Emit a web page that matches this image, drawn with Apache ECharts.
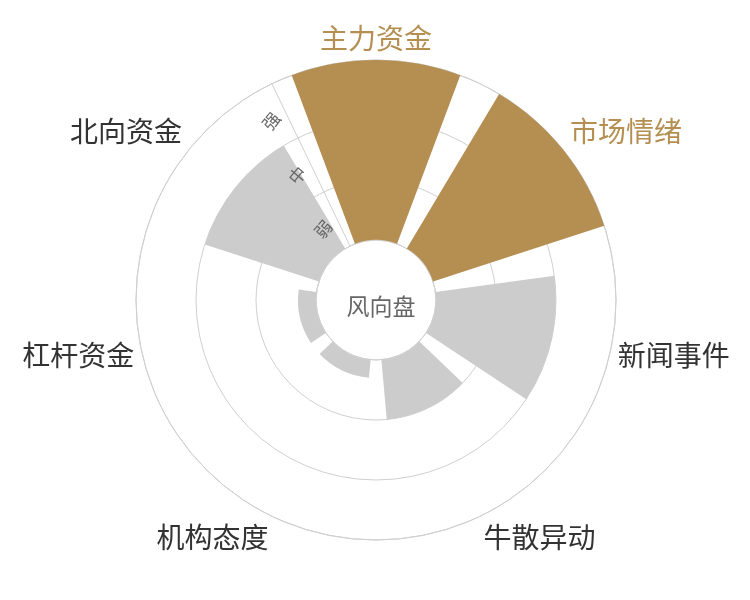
<!DOCTYPE html>
<html>
<head>
<meta charset="utf-8">
<script src="https://cdn.jsdelivr.net/npm/echarts@6/dist/echarts.min.js"></script>
<style>
html,body{margin:0;padding:0;background:#fff;}
#main{width:750px;height:600px;}
</style>
</head>
<body>
<div id="main"></div>
<script>
const categories = ['主力资金', '市场情绪', '新闻事件', '牛散异动', '机构态度', '杠杆资金', '北向资金'];
const values = [3, 3, 2, 1, 0.3, 0.3, 2];
const highlighted = [true, true, false, false, false, false, false];
const levels = ['弱', '中', '强'];
const centerLabel = '风向盘';

const BROWN = '#B58F52';
const GRAY = '#CCCCCC';
const LINE = '#D0D0D0';
const FONT = '"Noto Sans CJK SC", "Noto Sans", sans-serif';
const startAngle = 90 + 360 / categories.length / 2;

const chart = echarts.init(document.getElementById('main'), null, { renderer: 'canvas' });
chart.setOption({
  backgroundColor: '#fff',
  animation: false,
  textStyle: { fontFamily: FONT },
  title: {
    text: centerLabel,
    left: 376, top: 301,
    textAlign: 'center', textVerticalAlign: 'middle',
    textStyle: { fontSize: 23, fontWeight: 'normal', color: '#666', fontFamily: FONT }
  },
  polar: [
    { center: [376, 300], radius: [60, 240] },
    { center: [376, 300], radius: [60, 240] }
  ],
  angleAxis: [
    {
      polarIndex: 0,
      type: 'category',
      data: categories,
      startAngle: startAngle,
      clockwise: true,
      axisLine: { show: true, lineStyle: { color: LINE, width: 1 } },
      axisTick: { show: false },
      splitLine: { show: false },
      axisLabel: {
        margin: 8,
        fontSize: 28,
        fontFamily: FONT,
        formatter: function (v) {
          const i = categories.indexOf(v);
          return highlighted[i] ? '{h|' + v + '}' : '{n|' + v + '}';
        },
        rich: {
          h: { color: BROWN, fontSize: 28, fontFamily: FONT },
          n: { color: '#333', fontSize: 28, fontFamily: FONT }
        }
      }
    },
    {
      polarIndex: 1,
      type: 'category',
      data: categories,
      startAngle: startAngle,
      show: false
    }
  ],
  radiusAxis: [
    {
      polarIndex: 0,
      type: 'value',
      min: 0, max: 3, interval: 1,
      axisLine: { show: true, lineStyle: { color: LINE, width: 1 } },
      axisTick: { show: false },
      axisLabel: { show: false },
      splitLine: { show: true, lineStyle: { color: LINE, width: 1 } }
    },
    {
      polarIndex: 1,
      type: 'category',
      data: levels,
      z: 10,
      axisLine: { show: false },
      axisTick: { show: false },
      splitLine: { show: false },
      axisLabel: {
        show: true,
        margin: 9,
        rotate: 50,
        fontSize: 17,
        color: '#666',
        fontFamily: FONT
      }
    }
  ],
  series: [
    {
      type: 'bar',
      coordinateSystem: 'polar',
      polarIndex: 0,
      barCategoryGap: '20%',
      data: values.map(function (v, i) {
        return { value: v, itemStyle: { color: highlighted[i] ? BROWN : GRAY } };
      }),
      z: 2
    }
  ]
});
</script>
</body>
</html>
